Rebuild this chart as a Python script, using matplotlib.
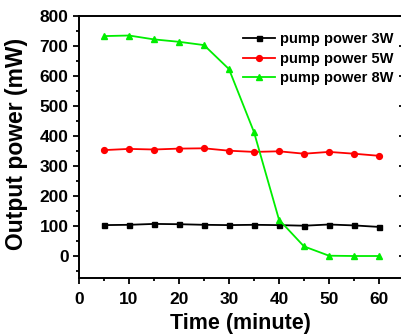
import matplotlib
matplotlib.use("Agg")
import matplotlib.pyplot as plt
from matplotlib.ticker import MultipleLocator

plt.rcParams['font.family'] = ['Liberation Sans', 'DejaVu Sans']
plt.rcParams['font.weight'] = 'bold'

time_min = [5, 10, 15, 20, 25, 30, 35, 40, 45, 50, 55, 60]
p3w = [103, 104, 107, 106, 104, 103, 104, 103, 101, 105, 102, 97]
p5w = [353, 357, 355, 358, 359, 351, 347, 349, 341, 347, 341, 334]
p8w = [733, 735, 722, 714, 703, 623, 413, 121, 32, 1, 0, 0]
labels = ['pump power 3W', 'pump power 5W', 'pump power 8W']

fig = plt.figure(figsize=(4.02, 3.35), dpi=100)
ax = fig.add_axes([79/402, 1-278/335, 326/402, 262/335])

ax.plot(time_min, p3w, color='black', marker='s', markersize=3.6, lw=1.3, label=labels[0])
ax.plot(time_min, p5w, color='#ff0000', marker='o', markersize=4.2, lw=1.3, label=labels[1])
ax.plot(time_min, p8w, color='#00ee00', marker='^', markersize=4.6, lw=1.3, label=labels[2])

ax.set_xlim(0, 65.2)
ax.set_ylim(-73.3, 800)
ax.xaxis.set_major_locator(MultipleLocator(10))
ax.xaxis.set_minor_locator(MultipleLocator(5))
ax.yaxis.set_major_locator(MultipleLocator(100))
ax.yaxis.set_minor_locator(MultipleLocator(50))

ax.tick_params(axis='both', which='both', direction='out', width=1.3, labelsize=12.5)
ax.tick_params(axis='x', which='both', pad=6)
ax.tick_params(axis='y', which='both', pad=3.5)
ax.tick_params(axis='both', which='major', length=4)
ax.tick_params(axis='both', which='minor', length=2.5)
for sp in ax.spines.values():
    sp.set_linewidth(1.4)

# right-side inward ticks
sec = ax.secondary_yaxis('right')
sec.yaxis.set_major_locator(MultipleLocator(100))
sec.yaxis.set_minor_locator(MultipleLocator(50))
sec.tick_params(axis='y', which='both', direction='in', width=1.3, labelright=False)
sec.tick_params(axis='y', which='major', length=4)
sec.tick_params(axis='y', which='minor', length=2.5)
sec.spines['right'].set_linewidth(1.4)

ax.set_xlabel('Time (minute)', fontsize=15.5, fontweight='bold')
ax.set_ylabel('Output power (mW)', fontsize=16.5, fontweight='bold')
ax.xaxis.set_label_coords(0.495, (278-313)/262)
ax.yaxis.set_label_coords((28-79)/326, (278-143.5)/262)

leg = ax.legend(loc='upper right', bbox_to_anchor=(0.978, 0.905), bbox_transform=fig.transFigure,
                frameon=False, fontsize=10.5, handlelength=2.2, handletextpad=0.35,
                labelspacing=0.4, borderaxespad=0, borderpad=0)
for t in leg.get_texts():
    t.set_fontweight('bold')

fig.savefig('out.png', dpi=100)
